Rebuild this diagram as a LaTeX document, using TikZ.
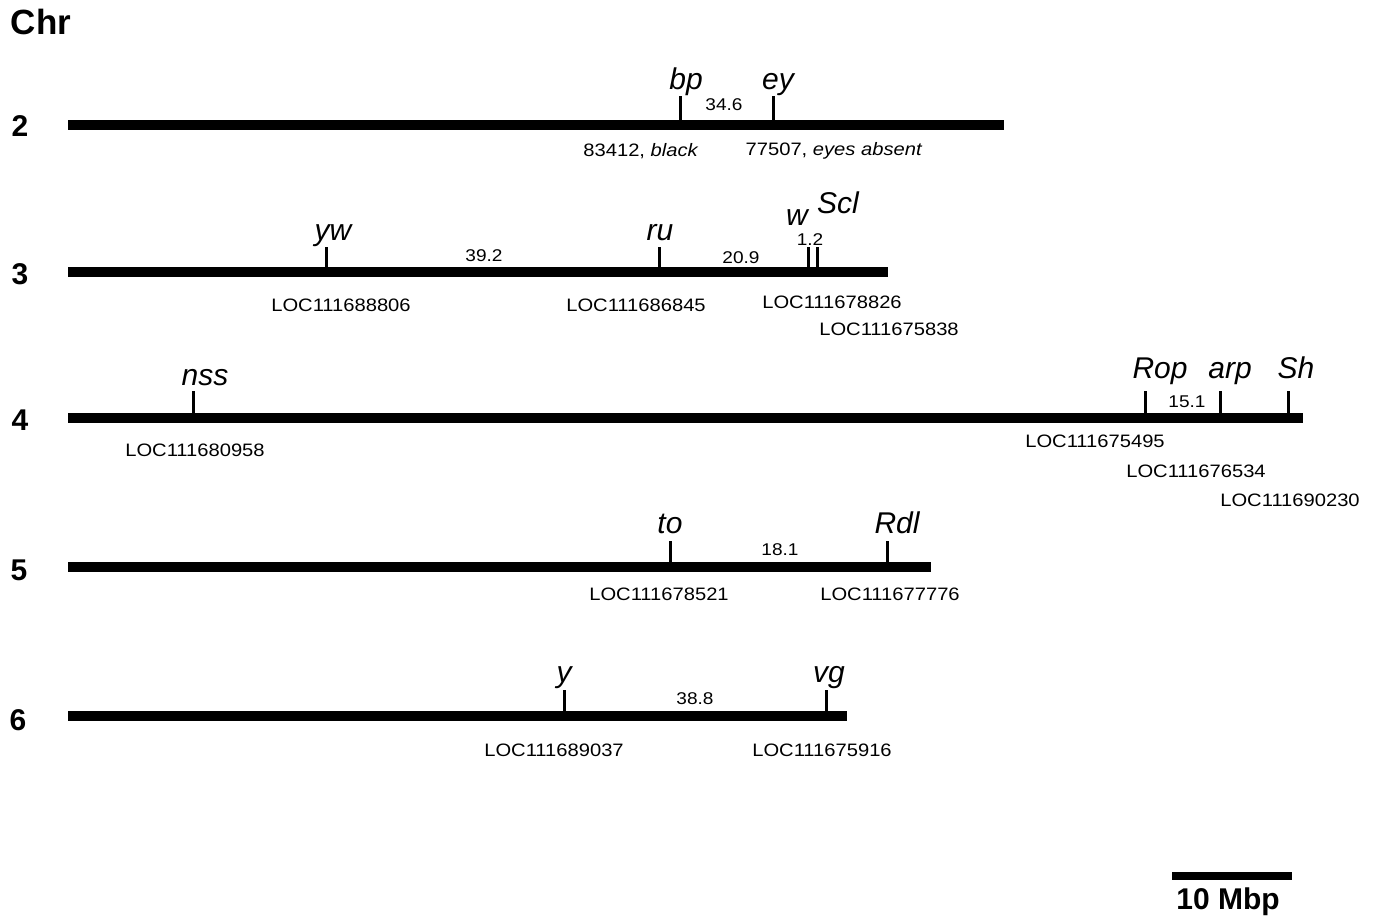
\documentclass[tikz,border=0pt]{standalone}
\usepackage{fontspec}
\setmainfont{Liberation Sans}
\newfontfamily\widefont[FakeStretch=1.12]{Liberation Sans}
\begin{document}
\begin{tikzpicture}[x=1pt,y=-1pt,
  chrom/.style={line width=10pt},
  tickmark/.style={line width=3pt},
  gene/.style={font=\fontsize{30}{30}\selectfont\itshape, inner sep=0pt, anchor=base},
  dist/.style={font=\widefont\fontsize{17}{17}\selectfont, inner sep=0pt},
  loc/.style={font=\widefont\fontsize{18}{18}\selectfont, inner sep=0pt},
  chrnum/.style={font=\fontsize{30}{30}\selectfont\bfseries, inner sep=0pt}]
\useasboundingbox (0,0) rectangle (1375,920);

\node[font=\fontsize{35}{35}\selectfont\bfseries, inner sep=0pt] (chr) at (41,22) {Chr};

% Chromosome 2
\node[chrnum] (n2) at (20,126) {2};
\coordinate (c2a) at (68,125); \coordinate (c2b) at (1004,125);
\draw[chrom] (c2a) -- (c2b);
\coordinate (bp) at (680,120); \coordinate (ey) at (773,120);
\draw[tickmark] (bp) -- ++(0,-24);
\draw[tickmark] (ey) -- ++(0,-24);
\node[gene] (bpl) at (686,90) {bp};
\node[gene] (eyl) at (778,90) {ey};
\node[dist] (d2) at (724,105) {34.6};
\node[loc] (l2a) at (641,151) {83412, \textit{black}};
\node[loc] (l2b) at (834,151) {77507, \textit{eyes absent}};

% Chromosome 3
\node[chrnum] (n3) at (20,274) {3};
\coordinate (c3a) at (68,272); \coordinate (c3b) at (888,272);
\draw[chrom] (c3a) -- (c3b);
\coordinate (yw) at (326,267); \coordinate (ru) at (659,267);
\coordinate (w) at (808,267); \coordinate (scl) at (817,267);
\draw[tickmark] (yw) -- ++(0,-20);
\draw[tickmark] (ru) -- ++(0,-20);
\draw[tickmark] (w) -- ++(0,-20);
\draw[tickmark] (scl) -- ++(0,-20);
\node[gene] (ywl) at (333,240) {yw};
\node[gene] (rul) at (660,240) {ru};
\node[gene] (wl) at (797,225) {w};
\node[gene] (scll) at (838,214) {Scl};
\node[dist] (d3a) at (484,256) {39.2};
\node[dist] (d3b) at (741,258) {20.9};
\node[dist] (d3c) at (810,240) {1.2};
\node[loc] (l3a) at (341,305) {LOC111688806};
\node[loc] (l3b) at (636,305) {LOC111686845};
\node[loc] (l3c) at (832,302) {LOC111678826};
\node[loc] (l3d) at (889,329) {LOC111675838};

% Chromosome 4
\node[chrnum] (n4) at (20,420) {4};
\coordinate (c4a) at (68,418); \coordinate (c4b) at (1303,418);
\draw[chrom] (c4a) -- (c4b);
\coordinate (nss) at (193,413); \coordinate (rop) at (1145,413);
\coordinate (arp) at (1220,413); \coordinate (sh) at (1288,413);
\draw[tickmark] (nss) -- ++(0,-22);
\draw[tickmark] (rop) -- ++(0,-22);
\draw[tickmark] (arp) -- ++(0,-22);
\draw[tickmark] (sh) -- ++(0,-22);
\node[gene] (nssl) at (205,385) {nss};
\node[gene] (ropl) at (1160,378) {Rop};
\node[gene] (arpl) at (1230,378) {arp};
\node[gene] (shl) at (1296,378) {Sh};
\node[dist] (d4) at (1187,402) {15.1};
\node[loc] (l4a) at (195,450) {LOC111680958};
\node[loc] (l4b) at (1095,441) {LOC111675495};
\node[loc] (l4c) at (1196,471) {LOC111676534};
\node[loc] (l4d) at (1290,500) {LOC111690230};

% Chromosome 5
\node[chrnum] (n5) at (19,570) {5};
\coordinate (c5a) at (68,567); \coordinate (c5b) at (931,567);
\draw[chrom] (c5a) -- (c5b);
\coordinate (to) at (670,562); \coordinate (rdl) at (887,562);
\draw[tickmark] (to) -- ++(0,-21);
\draw[tickmark] (rdl) -- ++(0,-21);
\node[gene] (tol) at (670,533) {to};
\node[gene] (rdll) at (897,533) {Rdl};
\node[dist] (d5) at (780,550) {18.1};
\node[loc] (l5a) at (659,594) {LOC111678521};
\node[loc] (l5b) at (890,594) {LOC111677776};

% Chromosome 6
\node[chrnum] (n6) at (18,720) {6};
\coordinate (c6a) at (68,716); \coordinate (c6b) at (847,716);
\draw[chrom] (c6a) -- (c6b);
\coordinate (y) at (564,711); \coordinate (vg) at (826,711);
\draw[tickmark] (y) -- ++(0,-21);
\draw[tickmark] (vg) -- ++(0,-21);
\node[gene] (yl) at (564,682) {y};
\node[gene] (vgl) at (829,682) {vg};
\node[dist] (d6) at (695,699) {38.8};
\node[loc] (l6a) at (554,750) {LOC111689037};
\node[loc] (l6b) at (822,750) {LOC111675916};

% Scale bar
\coordinate (sa) at (1172,876); \coordinate (sb) at (1292,876);
\draw[line width=8pt] (sa) -- (sb);
\node[font=\fontsize{30}{30}\selectfont\bfseries, inner sep=0pt] (scale) at (1228,902) {10 Mbp};
\end{tikzpicture}
\end{document}
